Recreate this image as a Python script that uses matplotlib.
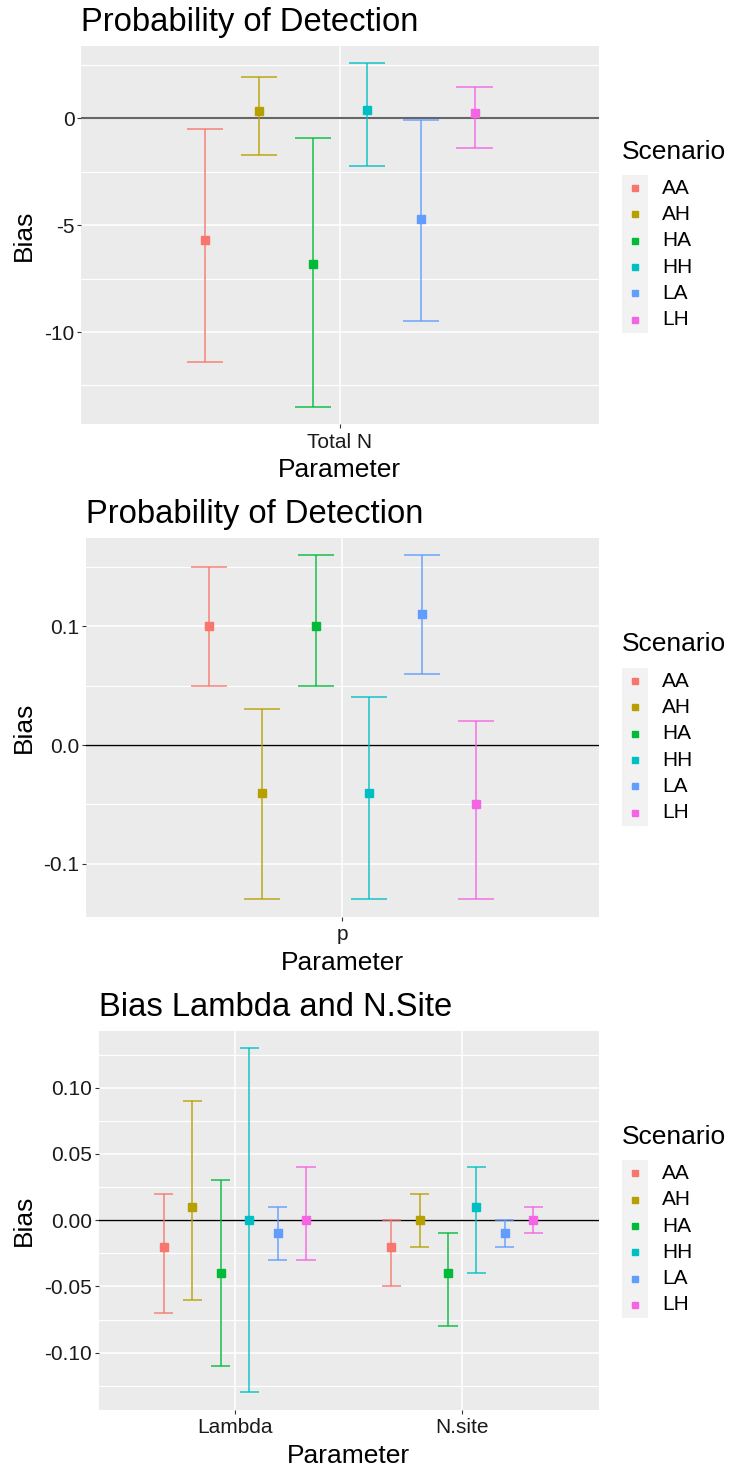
import numpy as np
import matplotlib
matplotlib.use("Agg")
import matplotlib.pyplot as plt
import matplotlib.transforms as mtransforms
from matplotlib.patches import Rectangle
from matplotlib.lines import Line2D

plt.rcParams["font.family"] = ["Liberation Sans", "DejaVu Sans"]

# scenario levels and ggplot hue colours
scenarios = ["AA", "AH", "HA", "HH", "LA", "LH"]
colors = ["#F8766D", "#B79F00", "#00BA38", "#00BFC4", "#619CFF", "#F564E3"]

# Total N bias
totalN_mean = [-5.7, 0.35, -6.8, 0.4, -4.7, 0.25]
totalN_lower = [-11.4, -1.7, -13.5, -2.25, -9.5, -1.4]
totalN_upper = [-0.5, 1.95, -0.9, 2.6, -0.05, 1.45]

# detection probability bias
p_mean = [0.10, -0.04, 0.10, -0.04, 0.11, -0.05]
p_lower = [0.05, -0.13, 0.05, -0.13, 0.06, -0.13]
p_upper = [0.15, 0.03, 0.16, 0.04, 0.16, 0.02]

# lambda and N.site bias
lambda_mean = [-0.02, 0.01, -0.04, 0.0, -0.01, 0.0]
lambda_lower = [-0.07, -0.06, -0.11, -0.13, -0.03, -0.03]
lambda_upper = [0.02, 0.09, 0.03, 0.13, 0.01, 0.04]
nsite_mean = [-0.02, 0.0, -0.04, 0.01, -0.01, 0.0]
nsite_lower = [-0.05, -0.02, -0.08, -0.04, -0.02, -0.01]
nsite_upper = [0.0, 0.02, -0.01, 0.04, 0.0, 0.01]

W, H = 731, 1468
fig = plt.figure(figsize=(W / 100, H / 100), dpi=100)

TICK_FS = 15
AXIS_FS = 19
TITLE_FS = 23.6
TEXT_COL = "#1A1A1A"
DODGE = 0.125
CAP = 0.042


def px_axes(left, top, right, bottom):
    return fig.add_axes([left / W, 1 - bottom / H, (right - left) / W, (bottom - top) / H])


def draw_panel(ax, params, means, lowers, uppers, yticks, yticklabels, minor, zero_color, zero_lw):
    n = len(params)
    ax.set_facecolor("#EBEBEB")
    for s in ax.spines.values():
        s.set_visible(False)
    lo = min(min(l) for l in lowers)
    hi = max(max(u) for u in uppers)
    pad = (hi - lo) * 0.05
    ax.set_ylim(lo - pad, hi + pad)
    ax.set_xlim(0.4, n + 0.6)

    ax.set_yticks(yticks)
    ax.set_yticklabels(yticklabels)
    ax.set_yticks(minor, minor=True)
    ax.set_xticks(range(1, n + 1))
    ax.set_xticklabels(params)
    ax.set_axisbelow(True)
    ax.grid(which="major", color="white", lw=1.1)
    ax.grid(which="minor", axis="y", color="white", lw=0.8)
    ax.tick_params(which="major", length=2.75, width=0.8, color="#333333",
                   labelsize=TICK_FS, labelcolor=TEXT_COL)
    ax.tick_params(axis="x", pad=3.4)
    ax.tick_params(axis="y", pad=2)
    ax.tick_params(which="minor", length=0)

    ax.axhline(0, color=zero_color, lw=zero_lw, zorder=2)

    for j in range(n):
        for i in range(len(scenarios)):
            x = j + 1 + (i - 2.5) * DODGE
            ax.vlines(x, lowers[j][i], uppers[j][i], color=colors[i], lw=1.1, alpha=0.9, zorder=3)
            ax.hlines([lowers[j][i], uppers[j][i]], x - CAP, x + CAP, color=colors[i],
                      lw=1.1, alpha=0.9, zorder=3)
            ax.plot(x, means[j][i], "s", ms=6, color=colors[i], mec=colors[i], zorder=4)

    # axis titles placed in pixel terms below / left of the panel
    bottom_px = H * (1 - ax.get_position().y0)
    ax.set_xlabel("Parameter", fontsize=AXIS_FS, va="baseline")
    ax.xaxis.set_label_coords(0.5, 1 - (bottom_px + 53) / H,
                              transform=mtransforms.blended_transform_factory(ax.transAxes, fig.transFigure))
    ax.set_ylabel("Bias", fontsize=AXIS_FS, va="center")
    ax.yaxis.set_label_coords(24 / W, 0.5,
                              transform=mtransforms.blended_transform_factory(fig.transFigure, ax.transAxes))


def draw_legend(title_y, box_top):
    fig.text(622 / W, 1 - title_y / H, "Scenario", fontsize=AXIS_FS, va="center", ha="left")
    key_h = 26.3
    fig.add_artist(Rectangle((622 / W, 1 - (box_top + 6 * key_h) / H), 26 / W, 6 * key_h / H,
                             transform=fig.transFigure, facecolor="#F2F2F2", edgecolor="none"))
    for i, s in enumerate(scenarios):
        cy = box_top + (i + 0.5) * key_h
        fig.add_artist(Line2D([635 / W], [1 - cy / H], marker="s", ms=5, color=colors[i],
                              transform=fig.transFigure))
        fig.text(662 / W, 1 - cy / H, s, fontsize=TICK_FS, va="center", ha="left")


# panel 1: Total N
ax1 = px_axes(81, 45.7, 598.6, 424)
draw_panel(ax1, ["Total N"], [totalN_mean], [totalN_lower], [totalN_upper],
           [-10, -5, 0], ["-10", "-5", "0"], [-12.5, -7.5, -2.5, 2.5], "#666666", 1.5)
fig.text(81 / W, 1 - 31 / H, "Probability of Detection", fontsize=TITLE_FS, va="baseline")
draw_legend(152, 175)

# panel 2: p
ax2 = px_axes(86, 537.7, 598.6, 916.7)
draw_panel(ax2, ["p"], [p_mean], [p_lower], [p_upper],
           [-0.1, 0.0, 0.1], ["-0.1", "0.0", "0.1"], [-0.05, 0.05, 0.15], "black", 1.0)
fig.text(86 / W, 1 - 523 / H, "Probability of Detection", fontsize=TITLE_FS, va="baseline")
draw_legend(644, 668)

# panel 3: Lambda and N.site
ax3 = px_axes(98.6, 1030.7, 598.6, 1409.7)
draw_panel(ax3, ["Lambda", "N.site"], [lambda_mean, nsite_mean],
           [lambda_lower, nsite_lower], [lambda_upper, nsite_upper],
           [-0.10, -0.05, 0.0, 0.05, 0.10], ["-0.10", "-0.05", "0.00", "0.05", "0.10"],
           [-0.125, -0.075, -0.025, 0.025, 0.075, 0.125], "black", 1.0)
fig.text(99 / W, 1 - 1016 / H, "Bias Lambda and N.Site", fontsize=TITLE_FS, va="baseline")
draw_legend(1136.7, 1160.3)

fig.savefig("out.png", dpi=100, facecolor="white")
